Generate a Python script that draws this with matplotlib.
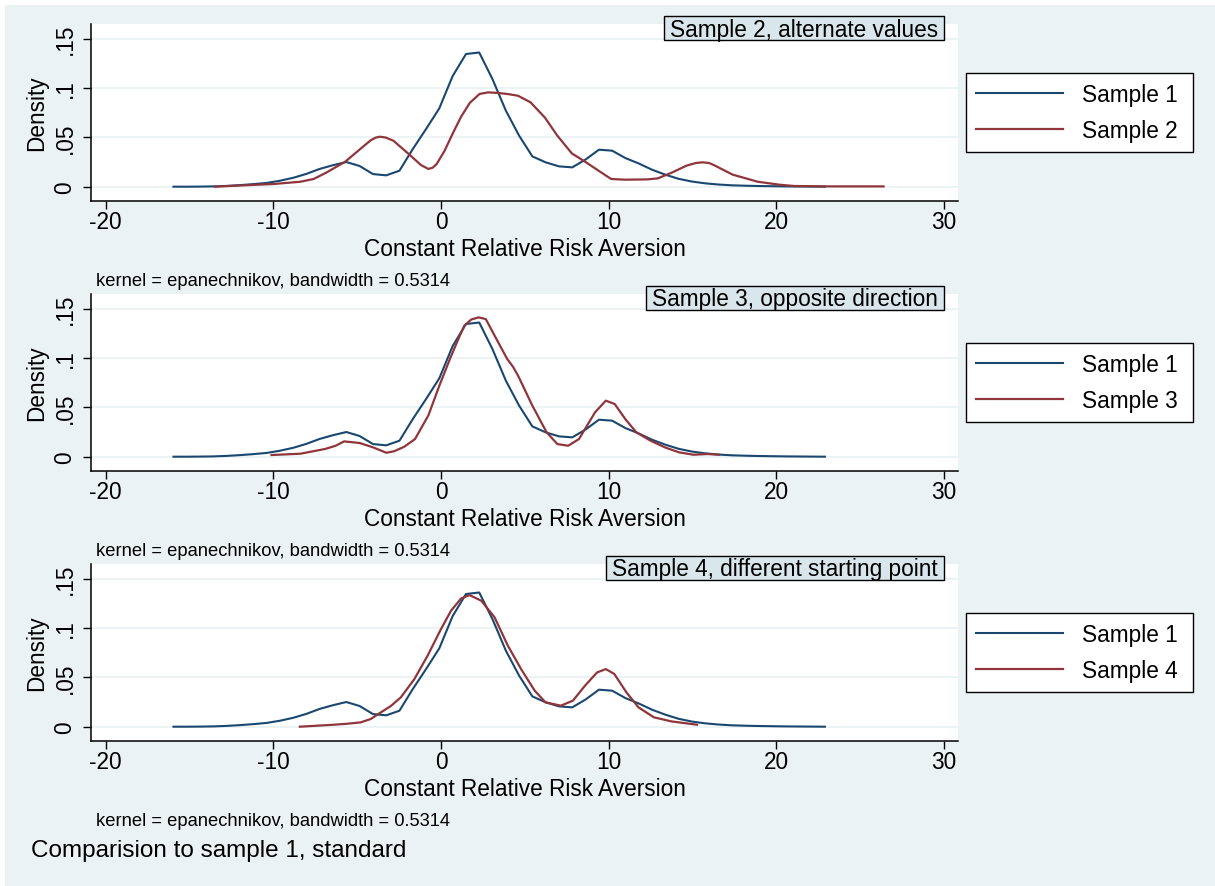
import matplotlib
matplotlib.use("Agg")
import matplotlib.pyplot as plt
from matplotlib.patches import Rectangle

plt.rcParams["font.family"] = ["Liberation Sans", "DejaVu Sans"]

# Kernel density estimates of CRRA coefficients
crra_s1 = [-15.96, -15.17, -14.37, -13.58, -12.79, -11.99, -11.20, -10.41, -9.62, -8.82,
           -8.03, -7.24, -6.44, -5.65, -4.86, -4.06, -3.27, -2.48, -1.69, -0.89,
           -0.10, 0.69, 1.49, 2.28, 3.07, 3.87, 4.66, 5.45, 6.24, 7.04,
           7.83, 8.62, 9.42, 10.21, 11.00, 11.80, 12.59, 13.38, 14.17, 14.97,
           15.76, 16.55, 17.35, 18.14, 18.93, 19.73, 20.52, 21.31, 22.11, 22.90]
dens_s1 = [0.0, 0.0, 0.0001, 0.0003, 0.0008, 0.0016, 0.0026, 0.0038, 0.0060, 0.0090,
           0.0130, 0.0180, 0.0218, 0.0250, 0.0210, 0.0128, 0.0115, 0.0162, 0.0380, 0.0585,
           0.0795, 0.1120, 0.1345, 0.1360, 0.1090, 0.0770, 0.0517, 0.0307, 0.0247, 0.0206,
           0.0196, 0.0275, 0.0375, 0.0365, 0.0290, 0.0235, 0.0172, 0.0122, 0.0080, 0.0052,
           0.0034, 0.0022, 0.0014, 0.0010, 0.0007, 0.0005, 0.0003, 0.0002, 0.0001, 0.0]

crra_s2 = [-13.48, -12.0, -10.0, -8.4, -7.6, -6.82, -5.72, -4.83, -4.2, -3.9, -3.64, -3.3,
           -2.84, -1.85, -1.2, -0.76, -0.5, -0.26, 0.2, 0.73, 1.2, 1.72, 2.3, 2.8, 3.4, 3.95,
           4.59, 5.34, 6.2, 6.94, 7.8, 8.65, 9.4, 10.15, 11.0, 12.3, 12.93, 13.8, 14.64, 15.2,
           15.6, 16.0, 16.35, 17.4, 18.9, 20.2, 21.05, 23.2, 26.4]
dens_s2 = [0.0, 0.0012, 0.0027, 0.005, 0.0078, 0.0145, 0.0253, 0.038, 0.047, 0.0497, 0.0507,
           0.0498, 0.0466, 0.032, 0.022, 0.018, 0.0192, 0.023, 0.036, 0.055, 0.071, 0.085,
           0.094, 0.0956, 0.095, 0.094, 0.0922, 0.0855, 0.070, 0.0517, 0.0338, 0.0247, 0.0162,
           0.0078, 0.0071, 0.0074, 0.0084, 0.0145, 0.0213, 0.0240, 0.0247, 0.0240, 0.0213,
           0.0122, 0.005, 0.002, 0.0007, 0.0003, 0.0003]

crra_s3 = [-10.11, -8.4, -6.92, -6.3, -5.78, -4.86, -4.06, -3.26, -2.8, -2.2, -1.55, -0.75,
           -0.1, 0.53, 1.0, 1.39, 1.8, 2.24, 2.67, 3.2, 3.95, 4.3, 4.6, 5.45, 6.3, 6.94,
           7.59, 8.23, 9.19, 9.83, 10.36, 11.0, 11.65, 12.5, 13.35, 14.2, 15.06, 15.9, 16.56]
dens_s3 = [0.0017, 0.003, 0.0078, 0.011, 0.0155, 0.0139, 0.0095, 0.004, 0.0055, 0.010, 0.0179,
           0.042, 0.072, 0.099, 0.118, 0.1328, 0.139, 0.1412, 0.1395, 0.1226, 0.099, 0.091,
           0.082, 0.0517, 0.0247, 0.0128, 0.0111, 0.0179, 0.045, 0.0568, 0.0534, 0.038, 0.0247,
           0.0162, 0.0095, 0.0044, 0.002, 0.0027, 0.002]

crra_s4 = [-8.42, -7.4, -6.39, -5.59, -4.79, -4.19, -3.59, -2.99, -2.4, -1.6, -0.8, 0.0, 0.6,
           1.2, 1.7, 2.4, 3.19, 3.99, 4.79, 5.59, 6.23, 7.15, 7.87, 8.59, 9.31, 9.83, 10.34,
           11.06, 11.78, 12.7, 13.73, 15.27]
dens_s4 = [0.0, 0.001, 0.002, 0.003, 0.0044, 0.0078, 0.0145, 0.021, 0.0297, 0.048, 0.072,
           0.099, 0.1176, 0.130, 0.1334, 0.1277, 0.111, 0.082, 0.058, 0.0365, 0.0247, 0.0213,
           0.0264, 0.0416, 0.055, 0.0584, 0.0534, 0.0348, 0.0196, 0.0095, 0.0054, 0.002]

panel_titles = ["Sample 2, alternate values", "Sample 3, opposite direction",
                "Sample 4, different starting point"]
compare_labels = ["Sample 2", "Sample 3", "Sample 4"]
compare_x = [crra_s2, crra_s3, crra_s4]
compare_y = [dens_s2, dens_s3, dens_s4]

x_ticks = [-20, -10, 0, 10, 20, 30]
y_ticks = [0, 0.05, 0.1, 0.15]
y_ticklabels = ["0", ".05", ".1", ".15"]
x_title = "Constant Relative Risk Aversion"
y_title = "Density"
kernel_note = "kernel = epanechnikov, bandwidth = 0.5314"
caption = "Comparision to sample 1, standard"

NAVY = "#1a476f"
MAROON = "#90353b"
BG = "#eaf2f3"
BOXFILL = "#d9e6eb"

W, H = 1215, 887
fig = plt.figure(figsize=(W / 100, H / 100), dpi=100, facecolor="white")
fig.patches.append(Rectangle((5 / W, 0), 1 - 5 / W, 1 - 6 / H, transform=fig.transFigure,
                             facecolor=BG, edgecolor="none", zorder=-10))

FS = 16.3
renderer = fig.canvas.get_renderer()

for i in range(3):
    off = 270 * i
    top, bottom, left, right = 25 + off, 202 + off, 91, 958
    pw, h = right - left, bottom - top
    ax = fig.add_axes([left / W, 1 - bottom / H, pw / W, h / H])
    ax.set_facecolor("white")
    ax.set_xlim(-20.88, 30.84)
    ax.set_ylim(-0.0145, 0.1649)
    for y in y_ticks:
        ax.axhline(y, color=BG, lw=1.3, zorder=0)
    ax.plot(crra_s1, dens_s1, color=NAVY, lw=1.5, label="Sample 1", zorder=3)
    ax.plot(compare_x[i], compare_y[i], color=MAROON, lw=1.6, label=compare_labels[i],
            zorder=3, solid_joinstyle="round")

    for s in ["top", "right"]:
        ax.spines[s].set_visible(False)
    for s in ["left", "bottom"]:
        ax.spines[s].set_linewidth(1.1)
        ax.spines[s].set_color("black")

    ax.set_xticks(x_ticks)
    ax.set_xticklabels([str(t) for t in x_ticks])
    ax.set_yticks(y_ticks)
    ax.set_yticklabels(y_ticklabels, rotation=90, va="center")
    ax.tick_params(axis="both", length=6, width=1.0, labelsize=FS, color="black")
    ax.tick_params(axis="x", pad=0.8)
    ax.tick_params(axis="y", pad=4.5)

    ax.set_xlabel(x_title, fontsize=FS)
    ax.xaxis.set_label_coords(0.5, (bottom - 238.5 - off) / h)
    ax.set_ylabel(y_title, fontsize=FS)
    ax.yaxis.set_label_coords((48 - left) / pw, 0.5)

    # legend entries to the right of the plot, inside a white framed box
    ax.legend(loc="center left", bbox_to_anchor=((976 - left) / pw, 0.5),
              borderaxespad=0, borderpad=0, fontsize=FS, frameon=False,
              handlelength=3.85, handletextpad=0.85, labelspacing=0.58)
    ax.add_patch(Rectangle(((966 - left) / pw, 1 - 128 / h), (1193 - 966) / pw, 79 / h,
                           transform=ax.transAxes, facecolor="white", edgecolor="black",
                           lw=1.0, clip_on=False, zorder=-1))

    # boxed panel title in the upper right corner of the plot region
    txt = ax.text((938 - left) / pw, 1 - 11.5 / h, panel_titles[i],
                  transform=ax.transAxes, ha="right", va="baseline", fontsize=FS, zorder=6)
    bb = txt.get_window_extent(renderer=renderer)
    x0 = ax.transAxes.inverted().transform((bb.x0 - 6, 0))[0]
    ax.add_patch(Rectangle((x0, 1 - 16 / h), (944 - left) / pw - x0, 24 / h,
                           transform=ax.transAxes, facecolor=BOXFILL, edgecolor="black",
                           lw=1.0, clip_on=False, zorder=5))

    fig.text(96 / W, 1 - (286 + off) / H, kernel_note, fontsize=13.2, va="baseline")

fig.text(31 / W, 1 - 857.5 / H, caption, fontsize=17.5, va="baseline")

fig.savefig("out.png", dpi=100, facecolor="white")
